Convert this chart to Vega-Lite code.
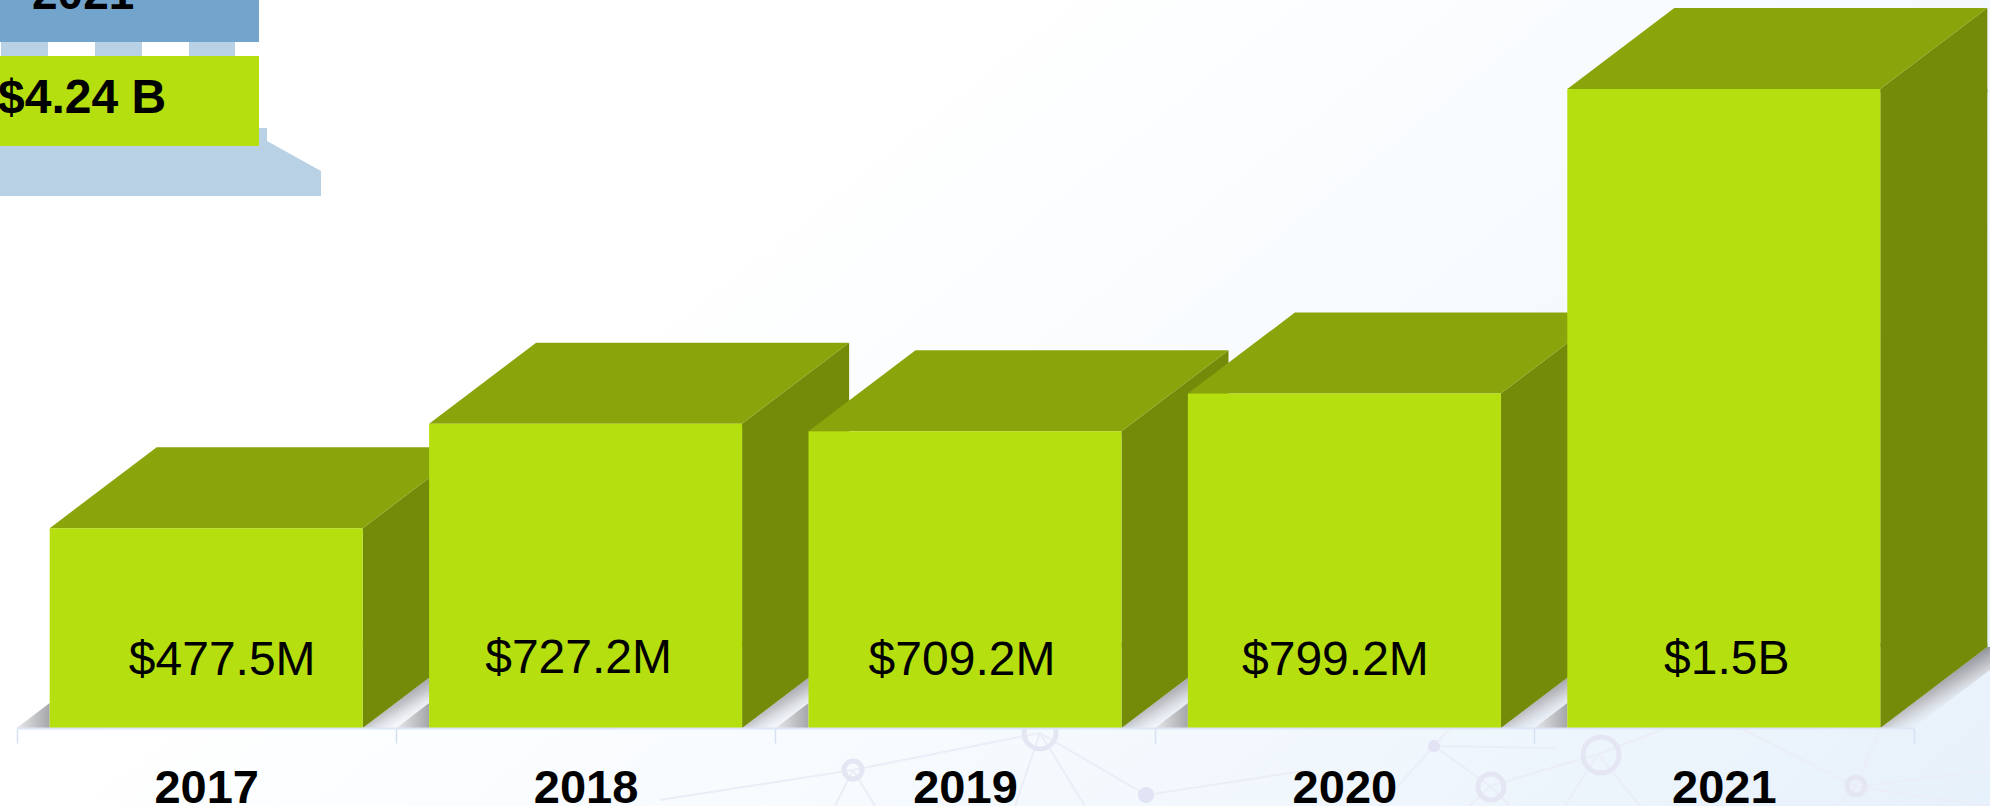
{"$schema":"https://vega.github.io/schema/vega-lite/v6.json","width":1990,"height":806,"autosize":{"type":"none"},"padding":0,"background":"#ffffff","config":{"view":{"stroke":null,"fill":{"gradient":"linear","x1":0.2,"y1":0.6,"x2":1,"y2":1,"stops":[{"offset":0,"color":"#ffffff"},{"offset":0.4,"color":"#F7FBFE"},{"offset":1,"color":"#E7F1FB"}]}},"font":"Liberation Sans"},"resolve":{"scale":{"x":"independent","y":"independent"}},"layer":[{"data":{"values":[{"element":"network"}]},"layer":[{"mark":{"type":"point","filled":false,"opacity":1,"size":4,"stroke":"#EBEDF7","strokeWidth":2,"shape":"M-142 367L45 330M45 330L151 392M495 383L603 351L725 305M439 343L495 383M439 343L385 403M439 343L455 325M151 392L315 367M495 383L475 403M495 383L515 403M603 351L645 403M603 351L570 403M861 384L995 367M861 384L840 403M861 384L885 325M861 384L995 403M745 325L861 384M-142 367L-335 397M-142 367L-160 403M-142 367L-120 403M439 343L560 345M45 330L20 403M45 330L90 403"}},{"mark":{"type":"point","filled":false,"opacity":1,"size":4,"stroke":"#E5E6F3","strokeWidth":5,"shape":"M61 330A16 16 0 1 0 29 330A16 16 0 1 0 61 330ZM-133 367A9 9 0 1 0 -151 367A9 9 0 1 0 -133 367ZM509 384A13 13 0 1 0 483 384A13 13 0 1 0 509 384ZM624 352A18 18 0 1 0 588 352A18 18 0 1 0 624 352ZM870 383A9 9 0 1 0 852 383A9 9 0 1 0 870 383Z"}},{"mark":{"type":"point","filled":true,"opacity":1,"size":4,"color":"#E2E3F4","shape":"M159 392A8 8 0 1 0 143 392A8 8 0 1 0 159 392ZM445 343A6 6 0 1 0 433 343A6 6 0 1 0 445 343Z"}}]},{"data":{"values":[{"year":"2017","revenue":477.5,"label":"$477.5M"},{"year":"2018","revenue":727.2,"label":"$727.2M"},{"year":"2019","revenue":709.2,"label":"$709.2M"},{"year":"2020","revenue":799.2,"label":"$799.2M"},{"year":"2021","revenue":1526.9,"label":"$1.5B"}]},"encoding":{"x":{"field":"year","type":"nominal","scale":{"type":"band","range":[16.5,1913.5],"paddingInner":0,"paddingOuter":0},"axis":{"title":null,"orient":"bottom","offset":-78,"tickBand":"extent","labelAngle":0,"labelFont":"Liberation Sans","labelFontWeight":"bold","labelFontSize":47,"labelColor":"#000000","labelBaseline":"alphabetic","labelPadding":59,"tickSize":15,"tickColor":"#D5E0F2","tickWidth":1.5,"domainColor":"#DCE6F6","domainWidth":2,"grid":false,"zindex":1}},"y":{"field":"revenue","type":"quantitative","scale":{"domain":[0,1739.5],"range":[728,0],"nice":false,"zero":true},"axis":null}},"layer":[{"mark":{"type":"point","filled":true,"opacity":1,"size":4,"strokeWidth":0,"shape":"M156.5 0L189.5 0L296.5 -81L263.5 -81Z","color":{"gradient":"linear","x1":0,"y1":0,"x2":1,"y2":1,"stops":[{"offset":0.38,"color":"#8F939B"},{"offset":0.5,"color":"#C6C8CC"},{"offset":0.62,"color":"rgba(225,230,240,0.15)"}]}},"encoding":{"y":{"datum":0,"type":"quantitative"}}},{"mark":{"type":"point","filled":true,"opacity":1,"size":4,"strokeWidth":0,"shape":"M-189.5 0L-156.5 -25L-156.5 0Z","color":{"gradient":"linear","x1":0,"y1":0,"x2":1,"y2":0,"stops":[{"offset":0,"color":"#E8E9EB"},{"offset":1,"color":"#A5A6A9"}]}},"encoding":{"y":{"datum":0,"type":"quantitative"}}},{"mark":{"type":"bar","width":107,"xOffset":210,"y2Offset":-81,"color":"#748B09","strokeWidth":0},"encoding":{"y2":{"datum":0}}},{"mark":{"type":"point","filled":true,"opacity":1,"size":4,"color":"#748B09","strokeWidth":0,"shape":"M156.5 0L263.5 -81L263.5 4L156.5 4Z"}},{"mark":{"type":"point","filled":true,"opacity":1,"size":4,"color":"#748B09","strokeWidth":0,"shape":"M156.5 0L156.5 -85L263.5 -85L263.5 -81Z"},"encoding":{"y":{"datum":0,"type":"quantitative"}}},{"mark":{"type":"point","filled":true,"opacity":1,"size":4,"color":"#8AA50B","strokeWidth":0,"shape":"M-156.5 0L156.5 0L263.5 -81L-49.5 -81Z"}},{"mark":{"type":"bar","width":313,"color":"#B5DF0E"},"encoding":{"y2":{"datum":0}}},{"mark":{"type":"text","font":"Liberation Sans","fontSize":48,"color":"#000000","align":"center","baseline":"alphabetic","dx":{"expr":"datum.year==='2017'?16:datum.year==='2018'?-7:datum.year==='2019'?-3:datum.year==='2020'?-9:3"},"dy":{"expr":"datum.year==='2018'?-55:datum.year==='2021'?-54:-53"}},"encoding":{"y":{"datum":0,"type":"quantitative"},"text":{"field":"label","type":"nominal"}}}]},{"data":{"values":[{"row":"year","label":"2021"},{"row":"total","label":"$4.24 B"}]},"encoding":{"x":{"field":"row","type":"nominal","scale":{"type":"point","domain":["year","total"],"range":[32,-2],"padding":0},"axis":null},"y":{"field":"row","type":"nominal","scale":{"type":"point","domain":["year","total"],"range":[9,113],"padding":0},"axis":null}},"layer":[{"transform":[{"filter":"datum.row==='total'"}],"mark":{"type":"point","filled":true,"opacity":1,"size":4,"strokeWidth":0,"color":"#B9D1E5","shape":"M2 15L269 15L269 28L323 58L323 83L2 83ZM3 -71L50 -71L50 -57L3 -57ZM97 -71L144 -71L144 -57L97 -57ZM191 -71L237 -71L237 -57L191 -57Z"}},{"transform":[{"filter":"datum.row==='year'"}],"mark":{"type":"point","filled":true,"opacity":1,"size":4,"strokeWidth":0,"color":"#73A5CC","shape":"M-32 -20L227 -20L227 33L-32 33Z"}},{"transform":[{"filter":"datum.row==='total'"}],"mark":{"type":"point","filled":true,"opacity":1,"size":4,"strokeWidth":0,"color":"#B5DF0E","shape":"M2 -57L261 -57L261 33L2 33Z"}},{"mark":{"type":"text","font":"Liberation Sans","fontWeight":"bold","fontSize":{"expr":"datum.row==='year'?46:48"},"color":"#000000","align":"left","baseline":"alphabetic"},"encoding":{"text":{"field":"label","type":"nominal"}}}]}]}
